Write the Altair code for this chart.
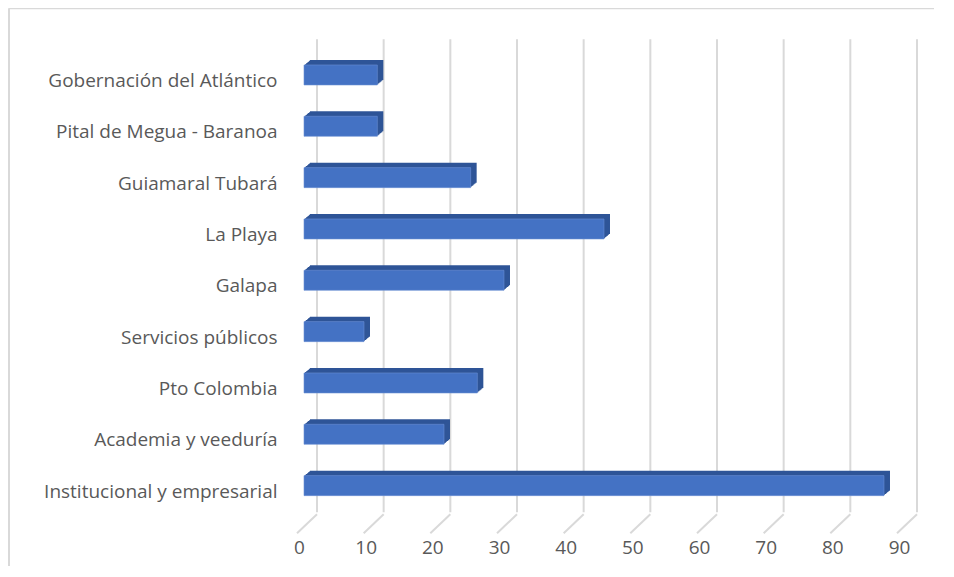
import altair as alt
import pandas as pd

categories = [
    "Gobernación del Atlántico",
    "Pital de Megua - Baranoa",
    "Guiamaral Tubará ",
    "La Playa",
    "Galapa",
    "Servicios públicos",
    "Pto Colombia",
    "Academia y veeduría",
    "Institucional y empresarial",
]
values = [11, 11, 25, 45, 30, 9, 26, 21, 87]
ticks = [0, 10, 20, 30, 40, 50, 60, 70, 80, 90]

FONT = "Open Sans"
FRONT = "#4472C4"
RIM = "#2F5597"
GRID = "#D9D9D9"
LABEL = "#595959"

bars_df = pd.DataFrame({"cat": categories, "val": values})
ticks_df = pd.DataFrame({"t": ticks})

xscale = alt.Scale(domain=[0, 90], nice=False, zero=True)
yscale = alt.Scale(domain=categories, paddingInner=0.61, paddingOuter=0.305)

xaxis = alt.Axis(
    values=ticks, grid=False, domain=False, ticks=False, title=None,
    labelFont=FONT, labelFontSize=19, labelColor=LABEL,
    labelOffset=-5, labelPadding=27, format="d", labelFlush=False,
    labelOverlap=False,
)
yaxis = alt.Axis(
    grid=False, domain=False, ticks=False, title=None,
    labelFont=FONT, labelFontSize=19, labelColor=LABEL,
    labelPadding=27, labelLimit=400, labelOffset=6,
)

# back-wall gridlines
wall = alt.Chart(ticks_df).mark_rule(color=GRID, strokeWidth=2, xOffset=13).encode(
    x=alt.X("t:Q", scale=xscale, axis=xaxis),
    y=alt.value(-10),
    y2=alt.value(463),
)
# floor lines (perspective)
floor = alt.Chart(ticks_df).mark_rule(color=GRID, strokeWidth=2, xOffset=13, x2Offset=-7).encode(
    x=alt.X("t:Q", scale=xscale),
    x2="t:Q",
    y=alt.value(465),
    y2=alt.value(484),
)

layers = [wall, floor]
depth = 6
for i in range(depth, 0, -1):
    layers.append(
        alt.Chart(bars_df).mark_bar(color=RIM, xOffset=i, yOffset=-i * 0.83).encode(
            x=alt.X("val:Q", scale=xscale),
            y=alt.Y("cat:N", scale=yscale, sort=categories, axis=yaxis),
        )
    )
layers.append(
    alt.Chart(bars_df).mark_bar(color=FRONT, stroke="#6A8FD3", strokeWidth=0.6).encode(
        x=alt.X("val:Q", scale=xscale),
        y=alt.Y("cat:N", scale=yscale, sort=categories, axis=yaxis),
    )
)

# chart frame
frame_left = alt.Chart(ticks_df.head(1)).mark_rule(color="#D9D9D9", strokeWidth=2).encode(
    x=alt.value(-295), y=alt.value(-41), y2=alt.value(540)
)
frame_top = alt.Chart(ticks_df.head(1)).mark_rule(color="#D9D9D9", strokeWidth=2).encode(
    x=alt.value(-295), x2=alt.value(640), y=alt.value(-41)
)
layers += [frame_left, frame_top]

chart = alt.layer(*layers).properties(
    width=600,
    height=462,
    padding={"left": 296, "top": 41.3, "right": 30, "bottom": 55},
    autosize=alt.AutoSizeParams(type="none"),
    background="white",
).configure_view(stroke=None)

chart.save("out.html", embed_options={"renderer": "svg", "actions": False})
